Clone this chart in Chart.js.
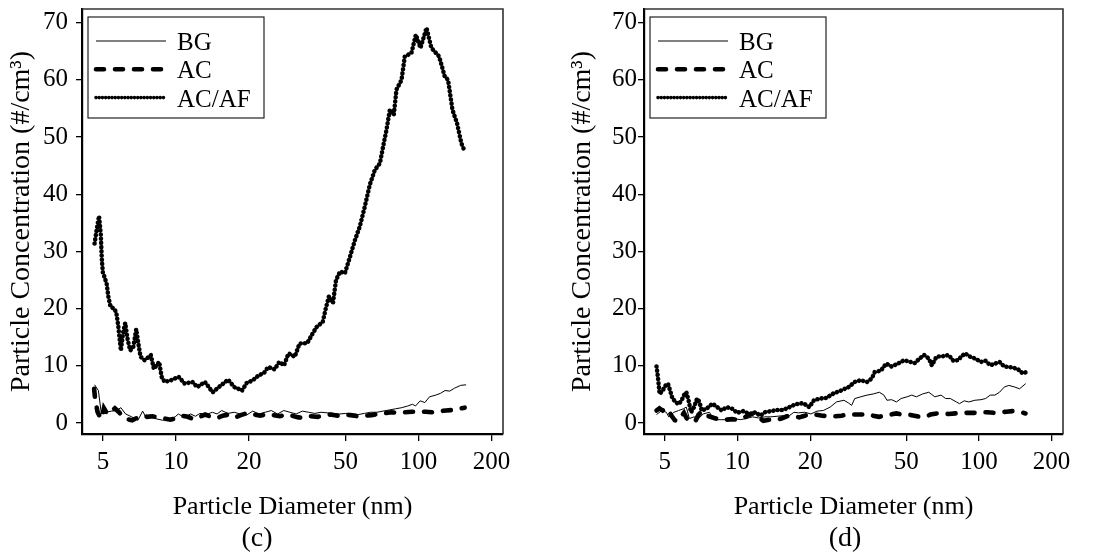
<!DOCTYPE html>
<html>
<head>
<meta charset="utf-8">
<script src="https://cdn.jsdelivr.net/npm/chart.js@4.4.1/dist/chart.umd.min.js"></script>
<style>
  body { margin: 0; background: #fff; }
  #wrap { position: relative; width: 1112px; height: 552px; overflow: hidden; }
  canvas { position: absolute; top: 0; }
  .cap { position: absolute; top: 521px; line-height: 32px; transform: translateX(-50%);
         font: 28px "Liberation Serif", "Times New Roman", serif; color: #000; }
</style>
</head>
<body>
<div id="wrap">
  <canvas id="chartC" width="556" height="552" style="left:0"></canvas>
  <canvas id="chartD" width="556" height="552" style="left:556px"></canvas>
  <div class="cap" style="left:257px">(c)</div>
  <div class="cap" style="left:845px">(d)</div>
</div>
<script>
// axis ticks
const xTicks = [5, 10, 20, 50, 100, 200];
const yTicks = [0, 10, 20, 30, 40, 50, 60, 70];

// (c) AC/AF
const cAfDiam = [4.62, 4.72, 4.82, 4.90, 4.95, 5.00, 5.07, 5.18, 5.27, 5.38, 5.59, 5.70, 5.79, 5.93, 6.05, 6.18, 6.33, 6.48, 6.67, 6.86,
  7.00, 7.15, 7.43, 7.88, 8.11, 8.53, 8.73, 8.99, 9.53, 10.25, 10.88, 11.70, 12.24, 13.16, 14.17, 15.02, 16.41, 17.40, 18.72, 19.56,
  20.74, 22.0, 23.0, 24.0, 25.5, 26.7, 27.9, 29.1, 30.9, 32.3, 34.8, 36.3, 38.0, 40.3, 41.5, 42.7, 44.4, 45.7, 47.5, 49.7,
  52.2, 54.7, 57.3, 60.1, 63.0, 66.1, 69.3, 71.5, 73.8, 76.2, 79.1, 81.1, 85.1, 87.8, 93.5, 97.5, 101.9, 107.9, 113.0, 121.6,
  128.3, 132.4, 138.0, 144.2, 150.3, 154.1];
const cAfConc = [31.4, 34.0, 36.2, 33.0, 28.5, 26.2, 25.6, 24.4, 22.0, 20.3, 20.0, 18.9, 16.8, 12.7, 15.7, 17.5, 14.5, 12.7, 13.3, 16.4,
  13.9, 11.6, 11.0, 11.9, 9.5, 10.7, 8.1, 7.2, 7.5, 8.1, 6.9, 7.2, 6.3, 7.2, 5.4, 6.3, 7.6, 6.3, 5.7, 7.0,
  7.5, 8.4, 8.7, 9.8, 9.4, 10.7, 10.1, 12.2, 11.6, 13.9, 14.0, 15.4, 16.8, 17.7, 20.1, 22.1, 21.0, 25.0, 26.5, 26.2,
  29.1, 32.0, 34.4, 37.9, 41.7, 44.3, 45.4, 48.4, 51.3, 54.8, 53.9, 58.3, 60.0, 64.1, 64.7, 67.9, 65.6, 69.1, 65.6, 64.1,
  60.6, 60.0, 54.8, 52.4, 48.9, 47.8];

// (c) BG
const cBgDiam = [4.62, 4.79, 4.93, 5.12, 5.43, 5.68, 5.93, 6.20, 6.57, 6.97, 7.29, 7.50, 7.85, 8.20, 8.83, 9.36, 9.93, 10.23, 10.84, 11.50,
  12.03, 12.57, 13.33, 14.14, 14.78, 15.45, 16.38, 17.38, 18.43, 19.55, 20.73, 21.99, 23.32, 24.73, 26.23, 27.83, 29.51, 31.30, 33.20, 35.21,
  37.35, 39.62, 42.02, 44.57, 47.27, 50.13, 53.18, 56.40, 59.82, 63.45, 67.30, 71.38, 75.71, 80.30, 85.17, 90.34, 94.4, 97.2, 101.6, 106.2,
  111.0, 117.8, 123.1, 128.7, 134.5, 140.6, 149.1, 157.1];
const cBgConc = [6.7, 5.7, 1.6, 1.9, 2.1, 2.2, 2.7, 1.6, 1.1, 0.5, 2.1, 1.1, 1.4, 0.8, 0.5, 0.7, 1.1, 1.6, 1.0, 1.6,
  1.2, 1.7, 1.5, 1.9, 1.6, 2.2, 1.7, 1.9, 1.6, 1.4, 2.1, 1.6, 1.9, 2.2, 1.6, 2.2, 1.9, 1.6, 2.1, 1.9,
  1.7, 1.9, 1.8, 1.7, 1.6, 1.7, 1.6, 1.5, 1.7, 1.9, 1.9, 2.1, 2.3, 2.5, 2.7, 3.0, 3.3, 3.0, 3.9, 3.6,
  4.6, 4.9, 5.2, 5.7, 5.6, 6.1, 6.6, 6.7];

// (c) AC
const cAcDiam = [4.60, 4.65, 4.75, 4.85, 4.95, 5.05, 5.15, 5.30, 5.45, 5.60, 5.80, 6.00, 6.30, 6.60, 6.90, 7.30, 7.60, 8.00, 8.50, 9.00,
  9.50, 9.90, 10.5, 11.2, 11.8, 12.5, 13.2, 14.0, 14.8, 15.6, 16.5, 17.5, 18.5, 19.8, 21.0, 22.3, 23.8, 25.2, 26.8, 28.4,
  30.0, 32.0, 34.0, 36.0, 38.5, 41.0, 43.5, 46.5, 49.5, 52.5, 56.0, 60.0, 64.0, 68.0, 72.0, 77.0, 82.0, 88.0, 94.0, 100,
  107, 114, 122, 130, 138, 146, 155];
const cAcConc = [6.0, 4.0, 2.0, 1.2, 0.8, 2.6, 2.0, 1.6, 2.2, 2.6, 2.0, 1.3, 0.7, 0.5, 0.9, 1.3, 1.1, 1.2, 1.0, 0.8,
  0.6, 0.8, 1.3, 1.1, 0.7, 1.1, 1.5, 1.1, 0.9, 1.3, 1.5, 1.0, 1.4, 1.8, 1.5, 1.3, 1.6, 1.4, 1.2, 1.5,
  1.3, 1.0, 0.9, 1.2, 1.1, 1.4, 1.5, 1.3, 1.5, 1.4, 1.2, 1.3, 1.4, 1.6, 1.7, 1.9, 1.8, 1.9, 2.0, 2.0,
  2.0, 1.9, 2.1, 2.2, 2.3, 2.5, 2.7];

// (d) AC/AF
const dAfDiam = [4.62, 4.68, 4.76, 4.90, 5.04, 5.15, 5.26, 5.38, 5.54, 5.70, 5.87, 6.01, 6.14, 6.27, 6.42, 6.61, 6.80, 6.96, 7.11, 7.43,
  7.88, 8.24, 8.61, 9.00, 9.53, 9.96, 10.56, 11.20, 11.88, 12.42, 12.97, 13.75, 14.59, 15.46, 16.40, 17.39, 18.71, 19.84, 20.73, 21.99,
  23.33, 24.74, 26.8, 28.9, 30.6, 32.4, 34.4, 36.0, 37.0, 39.3, 41.3, 43.5, 46.2, 49.0, 52.0, 54.3, 56.8, 59.3, 62.0, 63.8,
  66.7, 70.8, 75.0, 78.4, 81.9, 84.4, 87.6, 92.1, 96.2, 102.0, 106.6, 111.4, 116.5, 121.7, 127.3, 133.0, 139.0, 145.3, 151.8, 156.2];
const dAfConc = [9.9, 8.1, 5.1, 5.7, 6.6, 6.9, 5.7, 4.3, 3.7, 3.3, 4.0, 4.9, 5.4, 4.0, 1.9, 2.8, 4.3, 3.7, 2.2, 2.5,
  3.4, 2.8, 2.2, 2.8, 2.5, 1.8, 2.1, 1.6, 1.9, 1.3, 1.9, 2.1, 2.3, 2.3, 2.8, 3.3, 3.5, 2.8, 4.0, 4.3,
  4.4, 5.1, 5.7, 6.3, 7.2, 7.5, 7.2, 7.8, 8.9, 9.2, 10.4, 9.9, 10.4, 11.0, 10.7, 10.5, 11.3, 11.9, 11.3, 10.1,
  11.6, 11.7, 11.9, 10.9, 11.0, 11.6, 12.2, 11.6, 11.3, 10.7, 10.9, 10.1, 10.4, 10.7, 9.9, 9.8, 9.7, 9.4, 8.7, 8.9];

// (d) BG
const dBgDiam = [4.62, 4.86, 5.07, 5.19, 5.46, 5.70, 5.96, 6.14, 6.32, 6.61, 6.90, 7.21, 7.65, 8.00, 8.48, 9.12, 9.68, 10.26, 10.88, 11.54,
  12.24, 12.98, 13.76, 14.59, 15.47, 16.40, 17.13, 17.90, 18.99, 20.14, 21.36, 22.65, 24.2, 25.7, 27.6, 28.9, 29.7, 30.6, 32.4, 34.4,
  36.5, 38.7, 40.4, 41.6, 43.5, 45.5, 47.6, 50.4, 52.7, 55.1, 58.4, 62.0, 65.7, 69.7, 72.8, 76.1, 80.7, 83.1, 86.9, 90.8,
  96.2, 102.0, 106.6, 111.4, 116.5, 121.7, 127.3, 133.0, 141.0, 147.3, 156.2];
const dBgConc = [1.5, 2.2, 1.9, 1.1, 1.9, 2.2, 2.5, 2.8, 0.8, 1.1, 0.8, 1.6, 1.9, 0.6, 0.6, 0.6, 0.8, 0.6, 0.8, 1.1,
  0.9, 1.1, 1.1, 1.2, 1.3, 1.3, 1.9, 1.8, 1.9, 1.6, 2.1, 2.2, 2.8, 3.7, 4.0, 3.5, 3.1, 4.3, 4.6, 4.9,
  5.1, 5.4, 4.9, 4.0, 4.1, 3.7, 4.3, 4.6, 4.9, 4.6, 5.1, 5.4, 4.6, 4.9, 4.3, 4.3, 3.7, 3.4, 3.9, 3.7,
  4.0, 4.1, 4.3, 4.9, 4.9, 5.4, 6.3, 6.6, 6.3, 6.0, 6.9];

// (d) AC
const dAcDiam = [4.62, 4.75, 4.90, 5.05, 5.20, 5.35, 5.50, 5.65, 5.85, 6.00, 6.15, 6.30, 6.50, 6.70, 6.90, 7.10, 7.30, 7.60, 8.00, 8.50,
  9.00, 9.50, 10.0, 10.5, 11.0, 11.6, 12.2, 12.8, 13.5, 14.3, 15.2, 16.0, 17.0, 18.0, 19.0, 20.0, 21.0, 22.5, 24.0, 25.5,
  27.0, 28.5, 30.5, 32.5, 34.5, 36.5, 38.5, 40.5, 43.0, 45.5, 48.0, 51.0, 54.0, 57.0, 60.0, 63.0, 67.0, 71.0, 75.0, 80.0,
  85.0, 90.0, 96.0, 102, 108, 115, 122, 130, 138, 146, 156];
const dAcConc = [2.2, 2.6, 2.2, 2.6, 2.0, 1.2, 0.5, 0.4, 1.2, 1.8, 0.9, 0.3, 0.3, 0.4, 1.5, 2.0, 1.4, 1.2, 0.9, 0.6,
  0.6, 0.7, 0.6, 0.8, 1.3, 1.7, 1.0, 0.4, 0.6, 0.5, 0.8, 1.2, 1.3, 1.0, 1.3, 1.6, 1.5, 1.3, 1.2, 1.2,
  1.3, 1.5, 1.5, 1.5, 1.6, 1.3, 1.1, 1.3, 1.5, 1.7, 1.5, 1.5, 1.3, 1.1, 1.1, 1.5, 1.7, 1.7, 1.6, 1.7,
  1.8, 1.8, 1.8, 1.9, 1.9, 1.8, 1.9, 2.0, 2.1, 2.0, 1.7];

const SERIF = "'Liberation Serif', 'Times New Roman', serif";

function pts(d, v) {
  return d.map((x, i) => ({ x: x, y: v[i] }));
}

// top/right frame lines and the boxed legend inside the plot
const frameLegend = {
  id: 'frameLegend',
  afterDatasetsDraw(chart) {
    const { ctx, chartArea: a } = chart;
    ctx.save();
    ctx.strokeStyle = '#333';
    ctx.lineWidth = 1.6;
    ctx.beginPath();
    ctx.moveTo(a.left, a.top);
    ctx.lineTo(a.right, a.top);
    ctx.lineTo(a.right, a.bottom);
    ctx.stroke();

    const x0 = a.left + 6, y0 = a.top + 8;
    ctx.fillStyle = '#fff';
    ctx.fillRect(x0, y0, 176, 101);
    ctx.strokeStyle = '#222';
    ctx.lineWidth = 1.2;
    ctx.strokeRect(x0, y0, 176, 101);

    ctx.font = '25px ' + SERIF;
    ctx.textBaseline = 'alphabetic';
    chart.data.datasets.forEach((ds, i) => {
      const y = y0 + 24 + i * 28.3;
      ctx.beginPath();
      ctx.setLineDash(i === 2 ? [0.01, 3.2] : (ds.borderDash || []));
      ctx.lineCap = ds.borderCapStyle || 'butt';
      ctx.lineWidth = i === 2 ? 3.6 : ds.borderWidth;
      ctx.strokeStyle = ds.borderColor;
      ctx.moveTo(x0 + 8, y);
      ctx.lineTo(x0 + 78, y);
      ctx.stroke();
      ctx.setLineDash([]);
      ctx.fillStyle = '#000';
      ctx.fillText(ds.label, x0 + 89, y + 9);
    });
    ctx.restore();
  }
};

function makeChart(id, bg, ac, af, geo) {
  return new Chart(document.getElementById(id), {
    type: 'line',
    data: {
      datasets: [
        { label: 'BG', data: bg, borderColor: '#000', borderWidth: 1, borderJoinStyle: 'round', pointRadius: 0 },
        { label: 'AC', data: ac, borderColor: '#000', borderWidth: 4.6, borderDash: [8, 11], borderCapStyle: 'round', pointRadius: 0 },
        { label: 'AC/AF', data: af, borderColor: '#000', borderWidth: 4.6, borderDash: [0.01, 4.2], borderCapStyle: 'round', pointRadius: 0 }
      ]
    },
    options: {
      responsive: false,
      animation: false,
      devicePixelRatio: 1,
      layout: { padding: { top: 9, right: geo.right, left: 0, bottom: 0 } },
      plugins: { legend: { display: false }, tooltip: { enabled: false } },
      scales: {
        x: {
          type: 'logarithmic',
          min: 4.1,
          max: 223,
          afterBuildTicks: s => { s.ticks = xTicks.map(v => ({ value: v })); },
          afterFit: s => { s.height = 118; s.paddingLeft = 0; s.paddingRight = 0; },
          grid: { drawOnChartArea: false, tickLength: 7, color: '#000', lineWidth: 1.3 },
          border: { color: '#000', width: 2.2 },
          ticks: { autoSkip: false, maxRotation: 0, padding: 6, color: '#000',
                   font: { family: SERIF, size: 25 }, callback: v => String(v) },
          title: { display: true, text: 'Particle Diameter (nm)', color: '#000',
                   font: { family: SERIF, size: 26 }, padding: { top: 0, bottom: 29 } }
        },
        y: {
          min: -1.9,
          max: 72.4,
          afterBuildTicks: s => { s.ticks = yTicks.map(v => ({ value: v })); },
          afterFit: s => { s.width = geo.left; s.paddingTop = 0; s.paddingBottom = 0; },
          grid: { drawOnChartArea: false, tickLength: 6, color: '#000', lineWidth: 1.3 },
          border: { color: '#000', width: 2.2 },
          ticks: { padding: geo.tickPad, color: '#000', font: { family: SERIF, size: 25 } },
          title: { display: true, text: 'Particle Concentration (#/cm³)', color: '#000',
                   font: { family: SERIF, size: 28 }, padding: { top: geo.titlePad, bottom: 0 } }
        }
      }
    },
    plugins: [frameLegend]
  });
}

makeChart('chartC', pts(cBgDiam, cBgConc), pts(cAcDiam, cAcConc), pts(cAfDiam, cAfConc),
  { left: 82, right: 53, tickPad: 8, titlePad: 5 });
makeChart('chartD', pts(dBgDiam, dBgConc), pts(dAcDiam, dAcConc), pts(dAfDiam, dAfConc),
  { left: 88, right: 49, tickPad: 1, titlePad: 10 });
</script>
</body>
</html>
